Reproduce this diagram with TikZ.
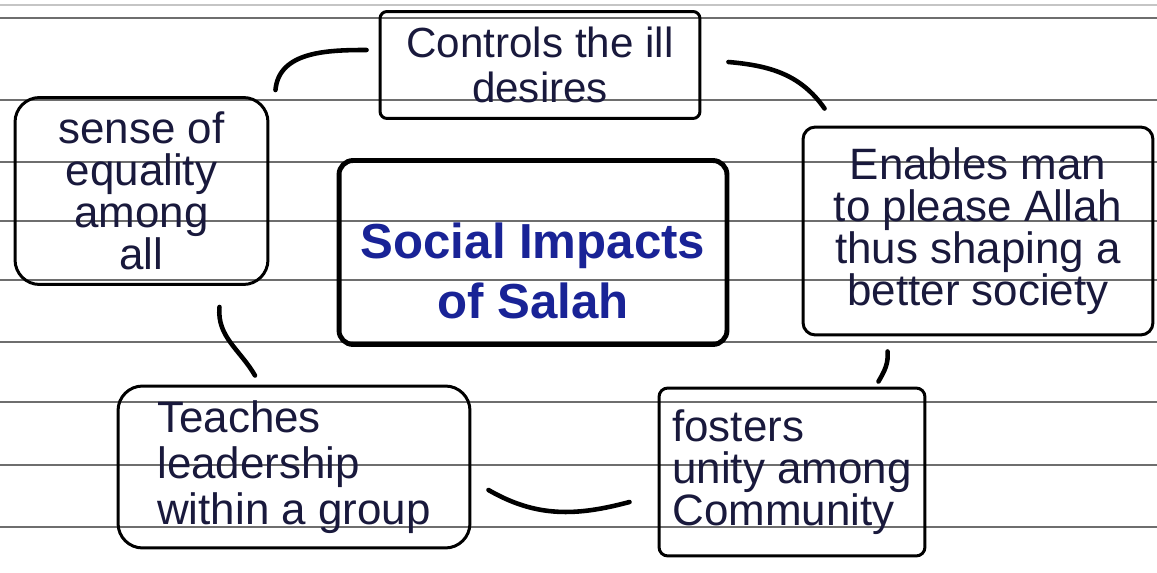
\documentclass[tikz,border=0pt]{standalone}
\usepackage{fontspec}
\setmainfont{Liberation Sans}
\usetikzlibrary{calc}

\definecolor{ink}{RGB}{25,25,60}
\definecolor{blueink}{RGB}{25,35,150}
\definecolor{ruling}{RGB}{110,110,110}

\begin{document}
\begin{tikzpicture}[x=0.02cm,y=0.02cm,line join=round]
\tikzstyle{every node}=[text=ink,font=\fontsize{25}{24}\selectfont]
\tikzstyle{box}=[draw=black,line width=1.7pt,rounded corners=12pt,inner sep=2pt]
\tikzstyle{link}=[draw=black,line width=2.6pt,line cap=round]

\useasboundingbox[fill=white] (0,0) rectangle (1157,572);

% ruled paper
\draw[ruling!40,line width=0.6pt] (0,567) -- (1157,567);
\foreach \y in {554,472,410,351,292,230,170,107,45}
  \draw[ruling,line width=1pt] (0,\y) -- (1157,\y);

\node[box,line width=2.8pt,rounded corners=8pt,minimum width=7.76cm,minimum height=3.68cm,
      text=blueink,font=\bfseries\fontsize{28}{34}\selectfont,align=center,
      text height=75pt]
  (salah) at (533,319.5) {Social Impacts\\of Salah};

\node[box,rounded corners=4pt,minimum width=6.4cm,minimum height=2.14cm,align=center,
      font=\fontsize{24}{26}\selectfont]
  (ctrl) at (540,507) {Controls the ill\\desires};
\node[box,rounded corners=14pt,minimum width=5.06cm,minimum height=3.74cm,align=center]
  (equal) at (141.5,381) {sense of\\equality\\among\\all};
\node[box,rounded corners=7pt,minimum width=7.0cm,minimum height=4.16cm,align=center]
  (allah) at (978,341) {Enables man\\to please Allah\\thus shaping a\\better society};
\node[box,rounded corners=14pt,minimum width=7.04cm,minimum height=3.24cm,align=left,
      font=\fontsize{25}{26}\selectfont]
  (lead) at (294,105) {Teaches\\leadership\\within a group};
\node[box,rounded corners=5pt,minimum width=5.32cm,minimum height=3.36cm,align=left,
      font=\fontsize{25}{24}\selectfont]
  (unity) at (792,100) {fosters\\unity among\\Community};

\draw[link] ($(equal.north east)+(6,6)$) to[out=85,in=180] ($(ctrl.west)+(-12,15)$);
\draw[link] ($(ctrl.east)+(27,3)$) to[out=-5,in=125] ($(allah.north west)+(23,17)$);
\draw[link] ($(allah.south west)+(86,-15)$) to[out=-85,in=60] ($(unity.north east)+(-48,5)$);
\draw[link] ($(lead.east)+(17,-23)$) to[out=-30,in=195] ($(unity.west)+(-28,-30)$);
\draw[link] ($(equal.south east)+(-50,-21)$) to[out=-95,in=120] ($(lead.north)+(-39,9)$);

\end{tikzpicture}
\end{document}
